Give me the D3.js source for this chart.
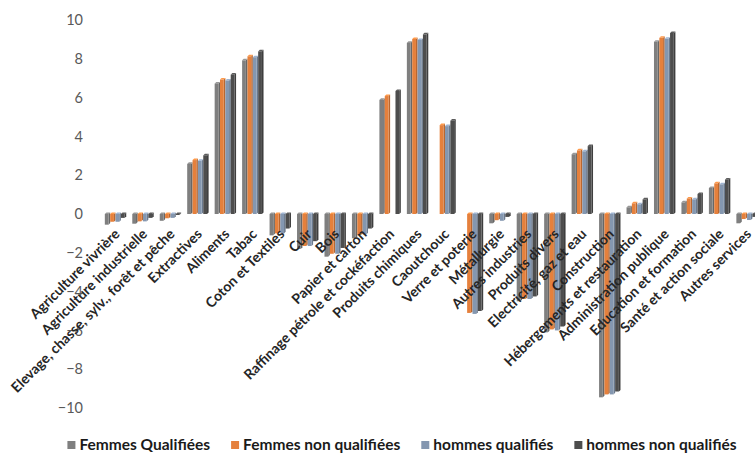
<!DOCTYPE html>
<html>
<head>
<meta charset="utf-8">
<script src="https://cdn.jsdelivr.net/npm/d3@7/dist/d3.min.js"></script>
<style>
  html, body { margin: 0; padding: 0; background: #ffffff; }
  svg { display: block; }
</style>
</head>
<body>
<div id="chart"></div>
<script>
// Sectors along the x axis
const categories = [
  "Agriculture vivrière",
  "Agriculture industrielle",
  "Elevage, chasse, sylv., forêt et pêche",
  "Extractives",
  "Aliments",
  "Tabac",
  "Coton et Textiles",
  "Cuir",
  "Bois",
  "Papier et carton",
  "Raffinage pétrole et cockéfaction",
  "Produits chimiques",
  "Caoutchouc",
  "Verre et poterie",
  "Métallurgie",
  "Autres industries",
  "Produits divers",
  "Electricité, gaz et eau",
  "Construction",
  "Hébergements et restauration",
  "Administration publique",
  "Education et formation",
  "Santé et action sociale",
  "Autres services"
];

const seriesNames = ["Femmes Qualifiées", "Femmes non qualifiées", "hommes qualifiés", "hommes non qualifiés"];

const femmesQualifiees    = [-0.55, -0.50, -0.35, 2.58, 6.72, 7.92, -1.10, -1.80, -2.20, -1.25, 5.88, 8.82, 0, 0, -0.48, -4.50, -6.10, 3.08, -9.45, 0.34, 8.88, 0.60, 1.34, -0.48];
const femmesNonQualifiees = [-0.40, -0.38, -0.22, 2.78, 6.93, 8.13, -1.00, -1.65, -2.05, -1.08, 6.08, 9.02, 4.58, -5.10, -0.32, -4.38, -5.95, 3.28, -9.30, 0.55, 9.08, 0.80, 1.58, -0.26];
const hommesQualifies     = [-0.40, -0.38, -0.20, 2.74, 6.88, 8.08, -1.00, -1.65, -2.05, -1.05, 0, 8.97, 4.53, -5.15, -0.35, -4.38, -6.00, 3.23, -9.30, 0.50, 9.03, 0.75, 1.53, -0.31];
const hommesNonQualifies  = [-0.20, -0.20, -0.05, 3.02, 7.18, 8.38, -0.75, -1.40, -1.75, -0.75, 6.34, 9.26, 4.81, -5.00, -0.15, -4.25, -5.80, 3.50, -9.15, 0.75, 9.33, 1.03, 1.77, -0.15];

const seriesValues = [femmesQualifiees, femmesNonQualifiees, hommesQualifies, hommesNonQualifies];
const seriesColors = ["#7f7f7f", "#e5803c", "#8497b0", "#4d4d4d"];

const yTicks = [-10, -8, -6, -4, -2, 0, 2, 4, 6, 8, 10];

const W = 755, H = 454;
const svg = d3.select("#chart").append("svg").attr("width", W).attr("height", H);

const x = d3.scaleBand().domain(categories).range([101.8, 760.8]).paddingInner(0.22).paddingOuter(0.11);
const xs = d3.scaleBand().domain(seriesNames).range([0, x.bandwidth()]);
const y = d3.scaleLinear().domain([-10, 10]).range([408, 20]);

// Y axis: labels only
const yAxis = svg.append("g")
  .attr("transform", "translate(88,0)")
  .call(d3.axisLeft(y).tickValues(yTicks).tickSize(0).tickPadding(5).tickFormat(d3.format("d")));
yAxis.select(".domain").remove();
yAxis.selectAll("text")
  .attr("fill", "#595959")
  .style("font-family", "Lato, 'Open Sans', sans-serif")
  .style("font-size", "14.5px");

// Bars with a shallow 3-D look: front face, lit top and shaded side
const depth = 1.6;
const rows = [];
seriesValues.forEach((vals, si) => {
  vals.forEach((v, ci) => {
    if (v !== 0) rows.push({ s: seriesNames[si], si, c: categories[ci], v });
  });
});

const bars = svg.append("g").selectAll("g").data(rows).join("g");

function geom(d) {
  const x0 = x(d.c) + xs(d.s);
  const w = xs.bandwidth() - depth;
  const yT = y(Math.max(0, d.v));
  const yB = y(Math.min(0, d.v));
  return { x0, w, yT, yB };
}

bars.append("polygon")
  .attr("points", d => {
    const g = geom(d);
    return [[g.x0 + g.w, g.yT], [g.x0 + g.w + depth, g.yT - depth], [g.x0 + g.w + depth, g.yB - depth], [g.x0 + g.w, g.yB]].join(" ");
  })
  .attr("fill", d => d3.color(seriesColors[d.si]).darker(0.6));

bars.append("polygon")
  .attr("points", d => {
    const g = geom(d);
    return [[g.x0, g.yT], [g.x0 + depth, g.yT - depth], [g.x0 + g.w + depth, g.yT - depth], [g.x0 + g.w, g.yT]].join(" ");
  })
  .attr("fill", d => d3.color(seriesColors[d.si]).brighter(0.5));

bars.append("rect")
  .attr("x", d => geom(d).x0)
  .attr("y", d => geom(d).yT)
  .attr("width", d => geom(d).w)
  .attr("height", d => Math.max(0.5, geom(d).yB - geom(d).yT))
  .attr("fill", d => seriesColors[d.si]);

// Category labels, rotated, sitting just under the zero line
const y0 = y(0);
svg.append("g").selectAll("text").data(categories).join("text")
  .attr("transform", d => `translate(${x(d) + x.bandwidth() / 2 + 5},${y0 + 21}) rotate(-45)`)
  .attr("text-anchor", "end")
  .attr("fill", "#262626")
  .style("font-family", "Lato, 'Open Sans', sans-serif")
  .style("font-weight", "bold")
  .style("font-size", "14px")
  .text(d => d);

// Legend along the bottom
const legend = svg.append("g");
const items = legend.selectAll("g").data(seriesNames).join("g");
items.append("rect").attr("width", 8).attr("height", 8).attr("y", -9)
  .attr("fill", (d, i) => seriesColors[i]);
items.append("text").attr("x", 12)
  .attr("fill", "#1a1a1a")
  .style("font-family", "Lato, 'Open Sans', sans-serif")
  .style("font-weight", "bold")
  .style("font-size", "15.5px")
  .text(d => d);
let cx = 0;
const gap = 21;
items.each(function () {
  const g = d3.select(this);
  g.attr("transform", `translate(${cx},0)`);
  cx += 12 + g.select("text").node().getComputedTextLength() + gap;
});
const total = cx - gap;
legend.attr("transform", `translate(${402 - total / 2},450)`);
</script>
</body>
</html>
